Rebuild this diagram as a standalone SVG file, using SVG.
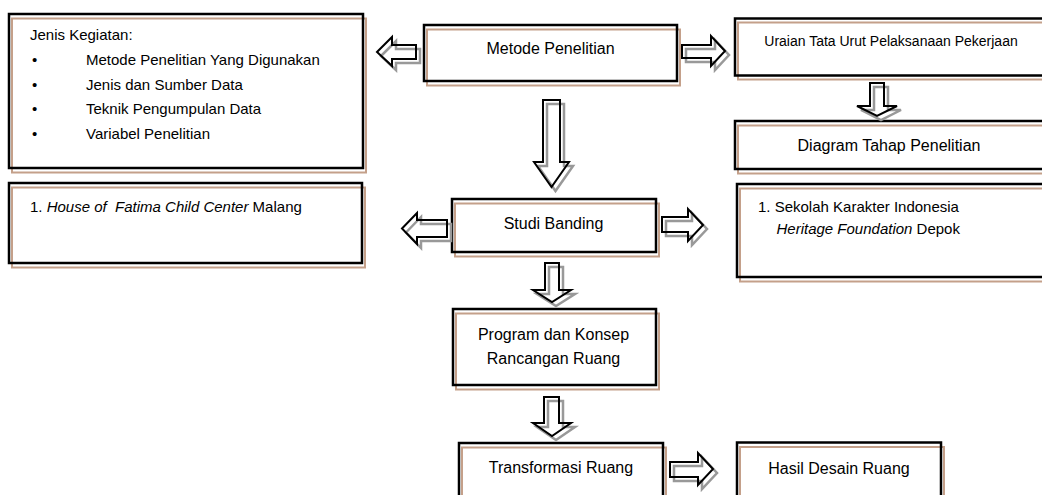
<svg xmlns="http://www.w3.org/2000/svg" width="1042" height="495" viewBox="0 0 1042 495">
<style>
.sh{fill:none;stroke:#c4a08a;stroke-width:2}
.bx{fill:none;stroke:#000;stroke-width:2.5}
.ash{fill:none;stroke:#999;stroke-width:2.5;stroke-linejoin:miter}
.ar{fill:none;stroke:#000;stroke-width:2;stroke-linejoin:miter}
text{font-family:"Liberation Sans",Arial,sans-serif;fill:#000;white-space:pre}
.t16{font-size:16px}
.t15{font-size:15px}
.t14{font-size:14px}
.c{text-anchor:middle}
</style>
<rect width="1042" height="495" fill="#fff"/>

<g id="kegiatan">
<rect class="sh" x="12" y="18.5" width="354" height="154"/>
<rect class="bx" x="9" y="14" width="354" height="154"/>
<text class="t15" x="30" y="40">Jenis Kegiatan:</text>
<text class="t15" x="32" y="65">•</text><text class="t15" x="86" y="65">Metode Penelitian Yang Digunakan</text>
<text class="t15" x="32" y="89.5">•</text><text class="t15" x="86" y="89.5">Jenis dan Sumber Data</text>
<text class="t15" x="32" y="114">•</text><text class="t15" x="86" y="114">Teknik Pengumpulan Data</text>
<text class="t15" x="32" y="139">•</text><text class="t15" x="86" y="139">Variabel Penelitian</text>
</g>

<g id="metode">
<rect class="sh" x="427" y="29.5" width="253" height="56"/>
<rect class="bx" x="424" y="25" width="253" height="56"/>
<text class="t16 c" x="550.5" y="54">Metode Penelitian</text>
</g>

<g id="uraian">
<rect class="sh" x="738" y="22.5" width="310" height="57"/>
<rect class="bx" x="735" y="18.5" width="310" height="57"/>
<text class="t14 c" x="891" y="46">Uraian Tata Urut Pelaksanaan Pekerjaan</text>
</g>

<g id="diagram">
<rect class="sh" x="738" y="125.5" width="310" height="48"/>
<rect class="bx" x="735" y="121" width="310" height="48"/>
<text class="t16 c" x="889" y="150.5">Diagram Tahap Penelitian</text>
</g>

<g id="house">
<rect class="sh" x="12" y="187.5" width="353" height="80"/>
<rect class="bx" x="9" y="183" width="353" height="80"/>
<text class="t15" x="30" y="211.5" xml:space="preserve">1. <tspan font-style="italic">House of  Fatima Child Center</tspan> Malang</text>
</g>

<g id="studi">
<rect class="sh" x="455" y="203.5" width="204" height="53"/>
<rect class="bx" x="452" y="199" width="204" height="53"/>
<text class="t16 c" x="553.5" y="229">Studi Banding</text>
</g>

<g id="sekolah">
<rect class="sh" x="740" y="188.5" width="310" height="93"/>
<rect class="bx" x="737" y="184" width="310" height="93"/>
<text class="t15" x="758" y="211.5">1. Sekolah Karakter Indonesia</text>
<text class="t15" x="776.5" y="233.5" xml:space="preserve"><tspan font-style="italic">Heritage Foundation</tspan> Depok</text>
</g>

<g id="program">
<rect class="sh" x="456" y="313.5" width="203" height="76"/>
<rect class="bx" x="453" y="309" width="203" height="76"/>
<text class="t16 c" x="553.5" y="339.5">Program dan Konsep</text>
<text class="t16 c" x="553.5" y="363.5">Rancangan Ruang</text>
</g>

<g id="transformasi">
<rect class="sh" x="462" y="447.5" width="204" height="60"/>
<rect class="bx" x="459" y="443" width="204" height="60"/>
<text class="t16 c" x="561" y="472.5">Transformasi Ruang</text>
</g>

<g id="hasil">
<rect class="sh" x="740" y="447" width="204" height="60"/>
<rect class="bx" x="737" y="442.5" width="204" height="60"/>
<text class="t16 c" x="839" y="473.5">Hasil Desain Ruang</text>
</g>

<g id="connectors">
<defs>
<path id="a1" d="M377,52 L392,37 L392,45 L416,45 L416,59 L392,59 L392,66 Z"/>
<path id="a2" d="M682,45 L711,45 L711,36 L725,51 L711,66 L711,58 L682,58 Z"/>
<path id="a3" d="M870,83 L884,83 L884,106 L897,106 L877,116 L857,106 L870,106 Z"/>
<path id="a4" d="M543,100 L560,100 L560,162 L569,162 L551.5,187 L534,162 L543,162 Z"/>
<path id="a5" d="M402,228.5 L417,213 L417,220 L447,220 L447,237 L417,237 L417,244 Z"/>
<path id="a6" d="M662,217 L688,217 L688,209 L703,225 L688,241 L688,232 L662,232 Z"/>
<path id="a7" d="M545,263 L559,263 L559,290 L571,290 L552,302 L533,290 L545,290 Z"/>
<path id="a8" d="M544,397 L559,397 L559,423 L571,423 L552,436 L533,423 L544,423 Z"/>
<path id="a9" d="M670,462 L698,462 L698,453 L713,469 L698,485 L698,477 L670,477 Z"/>
</defs>
<g transform="translate(4,4)">
<use href="#a1" class="ash"/><use href="#a2" class="ash"/><use href="#a3" class="ash"/>
<use href="#a4" class="ash"/><use href="#a5" class="ash"/><use href="#a6" class="ash"/>
<use href="#a7" class="ash"/><use href="#a8" class="ash"/><use href="#a9" class="ash"/>
</g>
<use href="#a1" class="ar"/><use href="#a2" class="ar"/><use href="#a3" class="ar"/>
<use href="#a4" class="ar"/><use href="#a5" class="ar"/><use href="#a6" class="ar"/>
<use href="#a7" class="ar"/><use href="#a8" class="ar"/><use href="#a9" class="ar"/>
</g>
</svg>
